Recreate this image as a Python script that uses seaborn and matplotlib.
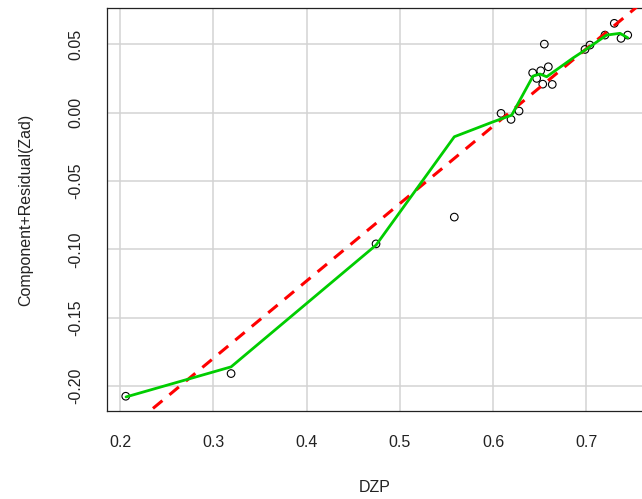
import matplotlib
matplotlib.use("Agg")
import matplotlib.pyplot as plt
import seaborn as sns
import pandas as pd

# ---- data ----
dzp = [0.2061, 0.3190, 0.4744, 0.5583, 0.6084, 0.6191, 0.6277, 0.6423, 0.6509,
       0.6591, 0.6466, 0.6531, 0.6633, 0.6548, 0.6984, 0.7037, 0.7198, 0.7298,
       0.7370, 0.7442]
comp_resid = [-0.2075, -0.1909, -0.0960, -0.0764, -0.0005, -0.0049, 0.0012, 0.0292,
              0.0307, 0.0336, 0.0251, 0.0209, 0.0207, 0.0502, 0.0463, 0.0495,
              0.0568, 0.0654, 0.0544, 0.0568]

smooth_x = [0.2064, 0.3190, 0.4744, 0.5583, 0.5998, 0.6198, 0.6427, 0.6501, 0.6573,
            0.6855, 0.6984, 0.7216, 0.7359, 0.7442]
smooth_y = [-0.2080, -0.1860, -0.0969, -0.0176, -0.0067, -0.0018, 0.0268, 0.0283,
            0.0263, 0.0400, 0.0458, 0.0568, 0.0581, 0.0548]

fit_x = [0.20, 0.77]
fit_y = [-0.2364, 0.0865]

x_ticks = [0.2, 0.3, 0.4, 0.5, 0.6, 0.7]
x_tick_labels = ["0.2", "0.3", "0.4", "0.5", "0.6", "0.7"]
y_ticks = [0.05, 0.00, -0.05, -0.10, -0.15, -0.20]
y_tick_labels = ["0.05", "0.00", "-0.05", "-0.10", "-0.15", "-0.20"]

x_label = "DZP"
y_label = "Component+Residual(Zad)"

# ---- plotting ----
sns.set_style("white")
plt.rcParams["font.family"] = ["Liberation Sans", "DejaVu Sans"]
plt.rcParams["axes.unicode_minus"] = False

W, H = 642, 499
fig = plt.figure(figsize=(W / 100, H / 100), dpi=100)
ax = fig.add_axes([107 / W, 1 - 411 / H, (W - 107) / W, (411 - 8.3) / H])

ax.set_xlim(0.186, 0.7595)
ax.set_ylim(-0.2183, 0.0764)

ax.set_axisbelow(True)
ax.grid(True, color="#d3d3d3", linewidth=1.1)

pts = pd.DataFrame({"x": dzp, "y": comp_resid})
sns.scatterplot(data=pts, x="x", y="y", ax=ax, marker="o", s=30,
                facecolor="none", edgecolor="black", linewidth=0.8, zorder=2)

fit = pd.DataFrame({"x": fit_x, "y": fit_y})
sns.lineplot(data=fit, x="x", y="y", ax=ax, color="#ff0000", linewidth=2.2,
             linestyle=(0, (4, 3)), sort=False, estimator=None, zorder=3)

sm = pd.DataFrame({"x": smooth_x, "y": smooth_y})
sns.lineplot(data=sm, x="x", y="y", ax=ax, color="#00cd00", linewidth=2.0,
             sort=False, estimator=None, zorder=4)

ax.set_xticks(x_ticks)
ax.set_xticklabels(x_tick_labels)
ax.set_yticks(y_ticks)
ax.set_yticklabels(y_tick_labels, rotation=90, va="center")

ax.tick_params(axis="both", direction="out", length=8, width=0.9, color="#222222",
               labelsize=11.5, labelcolor="#222222")
ax.tick_params(axis="x", pad=9)
ax.tick_params(axis="y", pad=9)

for side in ["left", "bottom", "top"]:
    ax.spines[side].set_color("#222222")
    ax.spines[side].set_linewidth(0.9)
ax.spines["right"].set_visible(False)

ax.set_xlabel("")
ax.set_ylabel("")
fig.text((107 + 642) / 2 / W - 0.0, 1 - 487 / H, x_label, ha="center", va="center",
         fontsize=11.5, color="#222222")
fig.text(26 / W, 1 - 210 / H, y_label, ha="center", va="center", rotation=90,
         fontsize=11.5, color="#222222")

fig.savefig("out.png", dpi=100)
